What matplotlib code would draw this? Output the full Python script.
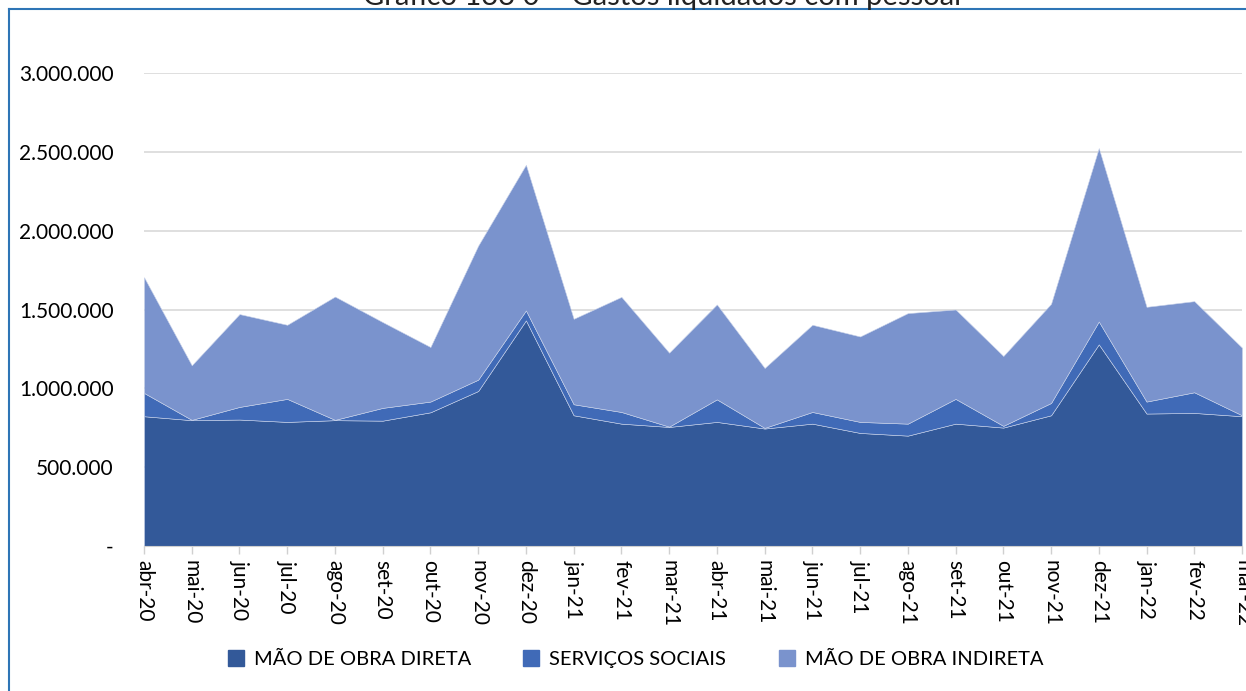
import matplotlib
matplotlib.use("Agg")
import matplotlib.pyplot as plt
import numpy as np
from matplotlib.patches import Rectangle
from matplotlib.lines import Line2D

months = ["abr-20", "mai-20", "jun-20", "jul-20", "ago-20", "set-20", "out-20", "nov-20",
          "dez-20", "jan-21", "fev-21", "mar-21", "abr-21", "mai-21", "jun-21", "jul-21",
          "ago-21", "set-21", "out-21", "nov-21", "dez-21", "jan-22", "fev-22", "mar-22"]

mao_obra_direta = [823000, 798000, 802000, 787000, 798000, 795000, 848000, 983000,
                   1431000, 829000, 776000, 755000, 787000, 745000, 776000, 717000,
                   700000, 776000, 751000, 829000, 1279000, 840000, 844000, 823000]
servicos_sociais = [148000, 2000, 80000, 146000, 2000, 81000, 68000, 72000,
                    63000, 70000, 74000, 2000, 143000, 4000, 74000, 70000,
                    76000, 157000, 11000, 78000, 145000, 76000, 131000, 6000]
mao_obra_indireta = [734000, 346000, 589000, 470000, 782000, 544000, 346000, 850000,
                     924000, 542000, 730000, 469000, 602000, 380000, 553000, 542000,
                     701000, 567000, 443000, 629000, 1100000, 601000, 578000, 429000]

series_names = ["MÃO DE OBRA DIRETA", "SERVIÇOS SOCIAIS", "MÃO DE OBRA INDIRETA"]
colors = ["#335999", "#406AB7", "#7A93CD"]
y_ticks = [0, 500000, 1000000, 1500000, 2000000, 2500000, 3000000]

plt.rcParams['font.family'] = ['Lato', 'DejaVu Sans']

fig = plt.figure(figsize=(12.46, 6.91), dpi=100)
ax = fig.add_axes([144/1246, 1-546/691, (1242-144)/1246, (546-73)/691])

x = np.arange(len(months))
ax.stackplot(x, mao_obra_direta, servicos_sociais, mao_obra_indireta,
             colors=colors, labels=series_names, edgecolor="#c9d3ea", linewidth=0.4)

ax.set_xlim(0, len(months)-1)
ax.set_ylim(0, 3000000)
ax.set_yticks(y_ticks)
def fmt(v):
    if v == 0:
        return "-"
    return f"{int(v):,}".replace(",", ".")
ax.set_yticklabels([fmt(v) for v in y_ticks], fontsize=15)
ax.yaxis.grid(True, color="#d9d9d9", linewidth=1.2)
ax.set_axisbelow(True)
ax.tick_params(axis='y', length=0, pad=22)

ax.set_xticks(x)
ax.set_xticklabels(months, rotation=-90, fontsize=15, va='top', ha='center')
ax.tick_params(axis='x', length=6, color="#d0d0d0", width=1, pad=4)

for s in ["top", "right", "left"]:
    ax.spines[s].set_visible(False)
ax.spines["bottom"].set_color("#d0d0d0")

handles = [Rectangle((0, 0), 1, 1, color=c) for c in colors]
fig.legend(handles, series_names, loc='center', bbox_to_anchor=(0.51, 1-659/691),
           ncol=3, frameon=False, fontsize=14.5, handlelength=0.8, handleheight=0.8,
           columnspacing=2.6, handletextpad=0.5)

fig.text(662/1246, 1-5/691, "Gráfico 133 0 – Gastos liquidados com pessoal", ha='center',
         va='baseline', fontsize=21, color="#222222")

fig.add_artist(Line2D([9/1246, 9/1246], [0, 1-9/691], color="#2E75B6", lw=1.5,
                      transform=fig.transFigure))
fig.add_artist(Line2D([9/1246, 1], [1-9/691, 1-9/691], color="#2E75B6", lw=1.5,
                      transform=fig.transFigure))

fig.savefig("out.png", dpi=100)
